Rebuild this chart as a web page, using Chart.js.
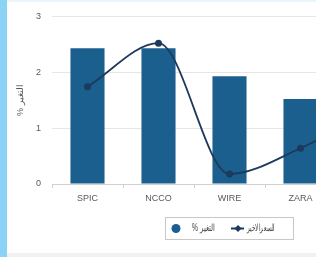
<!DOCTYPE html>
<html>
<head>
<meta charset="utf-8">
<script src="https://cdn.jsdelivr.net/npm/chart.js@4.4.0/dist/chart.umd.min.js"></script>
<style>
  html, body { margin: 0; padding: 0; background: #ffffff; width: 316px; height: 257px; overflow: hidden; }
  #leftBorder { position: absolute; left: 0; top: 0; width: 7px; height: 257px; background: #8ad3f5; }
  #topLine { position: absolute; left: 7px; top: 0; width: 309px; height: 2px; background: #eaf6fc; }
  #bottomStrip { position: absolute; left: 7px; top: 253px; width: 309px; height: 4px; background: #f1f1f1; }
  #wrap { position: absolute; left: 7px; top: 0; width: 410px; height: 253px; }
</style>
</head>
<body>
<div id="leftBorder"></div>
<div id="topLine"></div>
<div id="wrap"><canvas id="c" width="410" height="253"></canvas></div>
<div id="bottomStrip"></div>
<script>
// ---- data ----
const categories = ["SPIC", "NCCO", "WIRE", "ZARA", "AMOC"];
const changePct = [2.43, 2.43, 1.93, 1.52, 1.20];      // % التغير (bars)
const lastPrice = [1.74, 2.52, 0.18, 0.64, 1.30];      // السعرالاخير (line)
const yTicks = [0, 1, 2, 3];
const barLabel = "% التغير";
const lineLabel = "السعرالاخير";
const yTitle = "% التغير";

const barColor = "#1b5f8f";
const lineColor = "#1d3a5c";
const textColor = "#595959";
const FONT = "'Liberation Sans', Arial, sans-serif";

function fitText(ctx, text, left, right, y) {
  const w = ctx.measureText(text).width;
  const target = right - left;
  const s = Math.min(1, target / w);
  ctx.save();
  ctx.translate(left + (target - w * s) / 2, y);
  ctx.scale(s, 1);
  ctx.textAlign = "left";
  ctx.fillText(text, 0, 0);
  ctx.restore();
}

const legendPlugin = {
  id: 'customLegend',
  afterDraw(chart) {
    const ctx = chart.ctx;
    ctx.save();
    // box
    ctx.strokeStyle = "#c8c8c8";
    ctx.lineWidth = 1;
    ctx.strokeRect(158.5, 217.5, 128, 22);
    // bar item marker
    ctx.fillStyle = barColor;
    ctx.beginPath();
    ctx.arc(169, 228.5, 4.5, 0, Math.PI * 2);
    ctx.fill();
    ctx.font = "10px " + FONT;
    ctx.fillStyle = "#404040";
    ctx.textBaseline = "middle";
    fitText(ctx, barLabel, 185, 208, 228.5);
    // line item marker
    ctx.strokeStyle = lineColor;
    ctx.lineWidth = 2;
    ctx.beginPath();
    ctx.moveTo(224, 228.5);
    ctx.lineTo(237, 228.5);
    ctx.stroke();
    ctx.fillStyle = lineColor;
    ctx.beginPath();
    ctx.moveTo(231, 225);
    ctx.lineTo(234.5, 228.5);
    ctx.lineTo(231, 232);
    ctx.lineTo(227.5, 228.5);
    ctx.closePath();
    ctx.fill();
    ctx.fillStyle = "#404040";
    fitText(ctx, lineLabel, 240, 268, 228.5);
    ctx.restore();
  }
};

new Chart(document.getElementById('c'), {
  type: 'bar',
  data: {
    labels: categories,
    datasets: [
      {
        type: 'line',
        label: lineLabel,
        data: lastPrice,
        borderColor: lineColor,
        backgroundColor: lineColor,
        borderWidth: 1.8,
        pointRadius: 3.5,
        pointBackgroundColor: lineColor,
        pointBorderWidth: 0,
        cubicInterpolationMode: 'monotone',
        fill: false,
        order: 0
      },
      {
        type: 'bar',
        label: barLabel,
        data: changePct,
        backgroundColor: barColor,
        borderWidth: 0,
        barPercentage: 0.48,
        categoryPercentage: 1.0,
        order: 1
      }
    ]
  },
  options: {
    responsive: false,
    devicePixelRatio: 1,
    animation: false,
    layout: { padding: { top: 11, right: 10, bottom: 0, left: 0 } },
    plugins: {
      legend: { display: false },
      tooltip: { enabled: false }
    },
    scales: {
      x: {
        offset: true,
        grid: { display: true, offset: true, drawOnChartArea: false, drawTicks: true, tickLength: 4, color: "#d0d0d0" },
        border: { display: true, color: "#d0d0d0", width: 1 },
        ticks: { color: textColor, font: { family: FONT, size: 9 }, padding: 5, maxRotation: 0 },
        afterFit(scale) { scale.height = 69; }
      },
      y: {
        min: 0,
        max: 3,
        afterBuildTicks(scale) { scale.ticks = yTicks.map(v => ({ value: v })); },
        grid: { color: "#e6e6e6", drawTicks: false },
        border: { display: false },
        ticks: { color: textColor, font: { family: FONT, size: 9 }, padding: 11 },
        title: { display: true, text: yTitle, color: textColor, font: { family: FONT, size: 9 }, padding: { top: 8, bottom: 0 } },
        afterFit(scale) { scale.width = 45; }
      }
    }
  },
  plugins: [legendPlugin]
});
</script>
</body>
</html>
